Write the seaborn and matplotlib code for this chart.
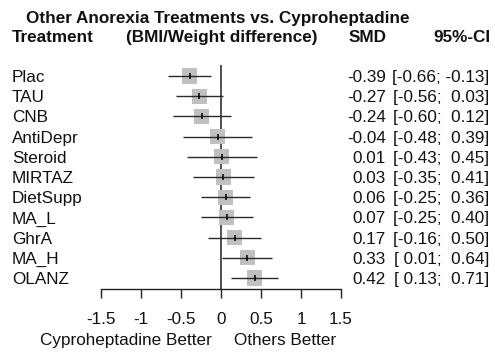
import matplotlib
matplotlib.use("Agg")
import matplotlib.pyplot as plt
import matplotlib.transforms as mtransforms
import numpy as np
import pandas as pd
import seaborn as sns

# Network meta-analysis results: each treatment vs. cyproheptadine
treatments = ["Plac", "TAU", "CNB", "AntiDepr", "Steroid", "MIRTAZ",
              "DietSupp", "MA_L", "GhrA", "MA_H", "OLANZ"]
smd = [-0.39, -0.27, -0.24, -0.04, 0.01, 0.03, 0.06, 0.07, 0.17, 0.33, 0.42]
ci_low = [-0.66, -0.56, -0.60, -0.48, -0.43, -0.35, -0.25, -0.25, -0.16, 0.01, 0.13]
ci_high = [-0.13, 0.03, 0.12, 0.39, 0.45, 0.41, 0.36, 0.40, 0.50, 0.64, 0.71]
x_ticks = [-1.5, -1, -0.5, 0, 0.5, 1, 1.5]
x_tick_labels = ["-1.5", "-1", "-0.5", "0", "0.5", "1", "1.5"]

df = pd.DataFrame({"treatment": treatments, "smd": smd,
                   "lo": ci_low, "hi": ci_high})
df["row"] = np.arange(len(df))

sns.set_theme(style="white")
plt.rcParams["font.family"] = ["Liberation Sans", "DejaVu Sans"]
plt.rcParams["axes.unicode_minus"] = False

W, H = 495, 352
fs = 12.3
fig = plt.figure(figsize=(W / 100, H / 100), dpi=100)
fig.patch.set_facecolor("white")

# forest panel: x from -1.5..1.5, rows top to bottom
ax = fig.add_axes([101 / W, 1 - 289 / H, 240 / W, (289 - 65) / H])
ax.set_xlim(-1.5, 1.5)
ax.set_ylim(10.545, -0.545)

sns.scatterplot(data=df, x="smd", y="row", marker="s", s=122,
                color="#c0c0c0", edgecolor="none", ax=ax, zorder=2,
                legend=False)
ax.hlines(df["row"], df["lo"], df["hi"], color="#2a2a2a", lw=1.0, zorder=3)
sns.scatterplot(data=df, x="smd", y="row", marker="|", s=22,
                color="black", linewidth=1.1, ax=ax, zorder=4, legend=False)
ax.axvline(0, color="#222222", lw=1.1, zorder=1)

for side in ["top", "right", "left"]:
    ax.spines[side].set_visible(False)
ax.spines["bottom"].set_color("#222222")
ax.spines["bottom"].set_linewidth(1.0)
ax.set_facecolor("none")
ax.set_yticks([])
ax.set_xticks(x_ticks)
ax.set_xticklabels(x_tick_labels, fontsize=fs, color="#111111")
ax.tick_params(axis="x", bottom=True, direction="out", length=6.5,
               width=1.0, color="#222222", pad=10)
ax.set_xlabel("")
ax.set_ylabel("")
ax.grid(False)

# row text: x in figure pixels, y in data rows (baseline a bit below centre)
row_y = mtransforms.offset_copy(ax.transData, fig=fig, x=0, y=-6.0, units="dots")
row_tr = mtransforms.blended_transform_factory(
    mtransforms.Affine2D().scale(1 / W, 1 / H) + fig.transFigure, row_y)

for i, r in df.iterrows():
    ax.text(12, r["row"], r["treatment"], transform=row_tr, fontsize=fs,
            ha="left", va="baseline", color="#111111")
    ax.text(386, r["row"], f"{r['smd']:.2f}", transform=row_tr, fontsize=fs,
            ha="right", va="baseline", color="#111111")
    ax.text(489, r["row"], f"[{r['lo']:5.2f}; {r['hi']:5.2f}]",
            transform=row_tr, fontsize=fs, ha="right", va="baseline",
            color="#111111")

def ftext(x, y, s, **kw):
    fig.text(x / W, 1 - y / H, s, fontsize=fs, va="baseline",
             color="#111111", **kw)

ftext(218, 22.7, "Other Anorexia Treatments vs. Cyproheptadine",
      ha="center", fontweight="bold")
ftext(12, 41.7, "Treatment", ha="left", fontweight="bold")
ftext(222, 41.7, "(BMI/Weight difference)", ha="center", fontweight="bold")
ftext(387, 41.7, "SMD", ha="right", fontweight="bold")
ftext(491, 41.7, "95%-CI", ha="right", fontweight="bold")
ftext(212, 345, "Cyproheptadine Better", ha="right")
ftext(234, 345, "Others Better", ha="left")

fig.savefig("out.png", dpi=100)
